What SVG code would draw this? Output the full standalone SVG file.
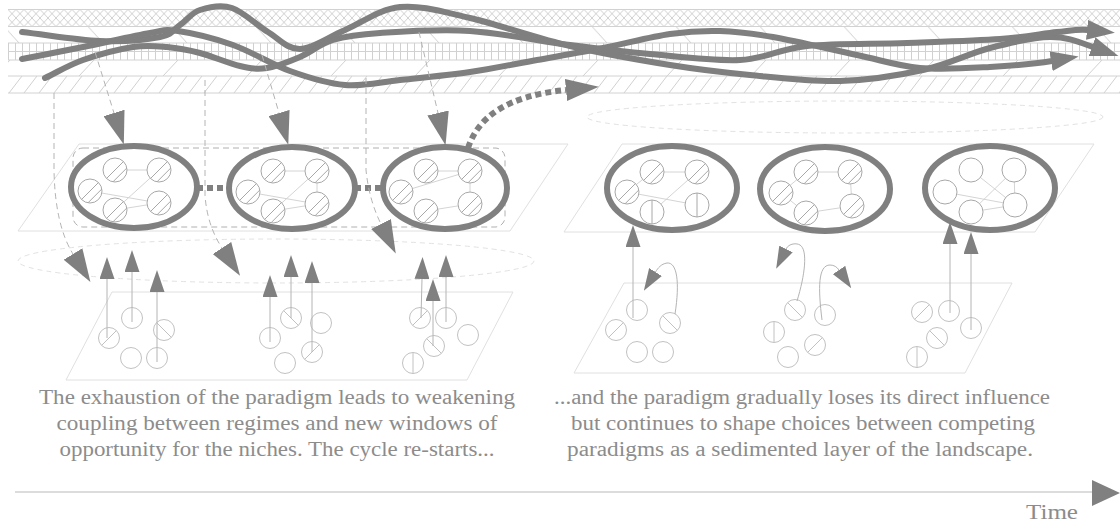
<svg xmlns="http://www.w3.org/2000/svg" xmlns:xlink="http://www.w3.org/1999/xlink" width="1120" height="525" viewBox="0 0 1120 525">
<style>
.bd{stroke:#d2d2d2;stroke-width:1;fill:none}
.pl{stroke:#c4c4c4;stroke-width:0.8;fill:none}
.cv{stroke:#7f7f7f;stroke-width:6;fill:none;stroke-linecap:round;stroke-linejoin:round}
.reg{stroke:#808080;stroke-width:6;fill:none}
.sc{stroke:#a8a8a8;stroke-width:1;fill:#fff}
.sh{stroke:#a8a8a8;stroke-width:1;fill:none}
.web{stroke:#cfcfcf;stroke-width:0.9;fill:none}
.nc{stroke:#c2c2c2;stroke-width:1;fill:#fff}
.nh{stroke:#c2c2c2;stroke-width:1;fill:none}
.par{stroke:#e0e0e0;stroke-width:1;fill:none}
.dsh{stroke:#e2e2e2;stroke-width:1;fill:none;stroke-dasharray:5 4}
.box{stroke:#b0b0b0;stroke-width:1;fill:none;stroke-dasharray:6 4}
.dl{stroke:#b4b4b4;stroke-width:1;fill:none;stroke-dasharray:6 4}
.na{stroke:#b4b4b4;stroke-width:1;fill:none}
.dot{stroke:#808080;stroke-width:6;fill:none;stroke-dasharray:6 4}
.txt{font-family:"Liberation Serif","DejaVu Serif",serif;font-size:20px;fill:#8c8c8c}
.head{fill:#808080}
</style>
<defs>
<pattern id="pX" patternUnits="userSpaceOnUse" x="8" y="9.5" width="8" height="8.5"><path d="M0,0L8,8.5M8,0L0,8.5" class="pl"/></pattern>
<pattern id="pV" patternUnits="userSpaceOnUse" x="8" y="43" width="7" height="17"><path d="M0.5,0V17" class="pl"/></pattern>
<pattern id="pD" patternUnits="userSpaceOnUse" x="8" y="76" width="15" height="17"><path d="M1,17L14,0" class="pl"/></pattern>
<pattern id="pS1" patternUnits="userSpaceOnUse" x="4" y="26.5" width="84" height="16.5"><path d="M0,0L15,16.5" class="pl"/></pattern>
<pattern id="pS2" patternUnits="userSpaceOnUse" x="-5" y="60" width="84" height="16"><path d="M15,0L0,16" class="pl"/></pattern>
<marker id="bandHead" markerUnits="userSpaceOnUse" viewBox="0 0 28 20" markerWidth="28" markerHeight="20" refX="1" refY="10" orient="auto"><path d="M0,0L28,10L0,20z" class="head"/></marker>
<marker id="bigHead" markerUnits="userSpaceOnUse" viewBox="0 0 33 22" markerWidth="33" markerHeight="22" refX="0" refY="11" orient="auto"><path d="M0,0L33,11L0,22z" class="head"/></marker>
<marker id="smallHead" markerUnits="userSpaceOnUse" viewBox="0 0 22 15" markerWidth="22" markerHeight="15" refX="0" refY="7.5" orient="auto"><path d="M0,0L22,7.5L0,15z" class="head"/></marker>
<g id="hc"><circle r="12" class="sc"/><path d="M-8.5,8.5L8.5,-8.5M-2,11.8L11.8,-2" class="sh"/></g>
<g id="vc"><circle r="12" class="sc"/><path d="M0,-12V12" class="sh"/></g>
<circle id="ec" r="12" class="sc"/>
<circle id="n0" r="10.5" class="nc"/>
<g id="nf"><circle r="10.5" class="nc"/><path d="M-7.4,7.4L7.4,-7.4" class="nh"/></g>
<g id="nb"><circle r="10.5" class="nc"/><path d="M-7.4,-7.4L7.4,7.4" class="nh"/></g>
<g id="nv"><circle r="10.5" class="nc"/><path d="M0,-10.5V10.5" class="nh"/></g>
</defs>

<g id="landscape">
<rect x="8" y="9.5" width="1112" height="17" fill="url(#pX)"/>
<rect x="8" y="26.5" width="1112" height="16.5" fill="url(#pS1)"/>
<rect x="8" y="43" width="1112" height="17" fill="url(#pV)"/>
<rect x="8" y="60" width="1112" height="16" fill="url(#pS2)"/>
<rect x="8" y="76" width="1112" height="17" fill="url(#pD)"/>
<path d="M8,9.5H1120M8,26.5H1120M8,43H1120M8,51.5H1120M8,60H1120M8,76H1120M8,93H1120" class="bd"/>
<path class="cv" marker-end="url(#bandHead)" d="M22,32 C48,35 77,40.2 100,41 S146.7,39.7 160,37 S173.3,29.5 180,25 S191.3,12.8 200,10 S220.7,4.3 232,8 S256.7,25.2 268,32 S287.2,49.3 300,49 S328.3,37 345,30 S379.2,9 400,7 S441.7,11.5 470,18 S536.7,38.2 570,46 S640,60.2 670,65 S721.7,72.3 750,75 S811.2,81.8 840,81 S898,75.5 923,70 S968.8,53.5 990,48 S1032.8,37.2 1050,37 S1079,42 1093,47"/>
<path class="cv" marker-end="url(#bandHead)" d="M22,59 C42.3,55 61.7,51.3 83,47 S134.2,35.7 150,33 S164.2,29 178,31 S214.3,38.3 233,45 S271.3,64.3 290,71 S326.7,83.5 345,85 S379.2,82.2 400,80 S447.2,75.3 470,72 S514.8,64 537,60 S580.8,52.3 603,48 S650.5,36.8 670,34 S702.8,30.5 720,31 S750.2,33 773,37 S832.5,49.8 857,55 S897.8,66 920,68 S968,68.2 990,67 S1040,63 1052,61"/>
<path class="cv" marker-end="url(#bandHead)" d="M45,78 C57.7,72 68.3,65.2 83,60 S119,49.2 133,47 S155.8,46 167,47 S187.8,49.8 200,53 S228.8,63.5 240,66 S257,69.5 267,68 S289,61.7 300,57 S319.7,44 333,40 S357.2,34.5 380,33 S438.3,29 470,31 S540,41.2 570,45 S621.7,51.5 650,54 S713.8,61.3 740,60 S779.2,48.8 807,46 S874.8,44.2 907,43 S975,40.8 1000,39 S1042.3,33.5 1057,32 S1078,29 1088,30"/>
</g>

<g id="planes">
<path d="M79,144H568L510,231H18Z" class="par"/>
<path d="M622,144H1094L1035,232H564Z" class="par"/>
<path d="M112,292H513L467,380H66Z" class="par"/>
<path d="M624,283H1012L965,373H574Z" class="par"/>
<ellipse cx="845" cy="117" rx="258" ry="16" class="dsh"/>
<ellipse cx="276" cy="261" rx="258" ry="22" class="dsh"/>
<rect x="73" y="148" width="432" height="79" rx="10" class="box"/>
</g>

<g id="regime-1" transform="translate(134,187)">
<path class="web" d="M-19,-17H25M25,-17L-19,23M-44,4L25,16M-19,23L25,16"/>
<use href="#hc" x="-19" y="-17"/><use href="#hc" x="25" y="-17"/><use href="#hc" x="-44" y="4"/><use href="#hc" x="-19" y="23"/><use href="#hc" x="25" y="16"/>
<ellipse rx="63" ry="41" class="reg"/>
</g>
<g id="regime-2" transform="translate(292,188)">
<path class="web" d="M-19,-17H25M25,-17L25,16M-44,4L25,16M25,-17L-19,23M-19,23L25,16"/>
<use href="#hc" x="-19" y="-17"/><use href="#hc" x="25" y="-17"/><use href="#hc" x="-44" y="4"/><use href="#hc" x="-19" y="23"/><use href="#hc" x="25" y="16"/>
<ellipse rx="63" ry="41" class="reg"/>
</g>
<g id="regime-3" transform="translate(445,188)">
<path class="web" d="M-19,-17H25M25,-17L25,16M-44,4L25,-17M-19,23L25,16"/>
<use href="#hc" x="-19" y="-17"/><use href="#hc" x="25" y="-17"/><use href="#hc" x="-44" y="4"/><use href="#hc" x="-19" y="23"/><use href="#hc" x="25" y="16"/>
<ellipse rx="62" ry="41" class="reg"/>
</g>
<g id="regime-4" transform="translate(672,188)">
<path class="web" d="M-20,-16H25M25,-16L-20,24M-45,4L25,17M-45,4L-20,-16"/>
<use href="#hc" x="-20" y="-16"/><use href="#hc" x="25" y="-16"/><use href="#hc" x="-45" y="4"/><use href="#vc" x="-20" y="24"/><use href="#vc" x="25" y="17"/>
<ellipse rx="65" ry="42" class="reg"/>
</g>
<g id="regime-5" transform="translate(825,189)">
<path class="web" d="M-19,-17H25M-44,4L-19,-17M25,-17L27,17M-44,4L-19,24M-19,24L27,17"/>
<use href="#hc" x="-19" y="-17"/><use href="#hc" x="25" y="-17"/><use href="#hc" x="-44" y="4"/><use href="#hc" x="-19" y="24"/><use href="#hc" x="27" y="17"/>
<ellipse rx="65" ry="42" class="reg"/>
</g>
<g id="regime-6" transform="translate(990,188)">
<path class="web" d="M-19,-18L25,17M24,-18L-19,24M-45,4L25,17M24,-18L25,17M-19,24L25,17"/>
<use href="#ec" x="-19" y="-18"/><use href="#ec" x="24" y="-18"/><use href="#ec" x="-45" y="4"/><use href="#ec" x="-19" y="24"/><use href="#ec" x="25" y="17"/>
<ellipse rx="65" ry="42" class="reg"/>
</g>

<g id="niche-1">
<use href="#nf" x="109" y="338"/><use href="#n0" x="132" y="318"/><use href="#nb" x="164" y="330"/><use href="#n0" x="131" y="358"/><use href="#n0" x="157" y="358"/>
</g>
<g id="niche-2">
<use href="#n0" x="270" y="338"/><use href="#nb" x="291" y="318"/><use href="#n0" x="321" y="323"/><use href="#nf" x="312" y="352"/><use href="#n0" x="285" y="363"/>
</g>
<g id="niche-3">
<use href="#nf" x="420" y="318"/><use href="#n0" x="446" y="318"/><use href="#n0" x="468" y="335"/><use href="#nb" x="434" y="346"/><use href="#nv" x="413" y="363"/>
</g>
<g id="niche-4">
<use href="#n0" x="637" y="310"/><use href="#nf" x="616" y="330"/><use href="#nb" x="670" y="323"/><use href="#n0" x="637" y="352"/><use href="#n0" x="663" y="352"/>
</g>
<g id="niche-5">
<use href="#nb" x="795" y="310"/><use href="#n0" x="825" y="315"/><use href="#nv" x="774" y="332"/><use href="#nf" x="815" y="345"/><use href="#n0" x="788" y="357"/>
</g>
<g id="niche-6">
<use href="#nf" x="922" y="312"/><use href="#n0" x="949" y="311"/><use href="#n0" x="971" y="328"/><use href="#nb" x="937" y="338"/><use href="#nv" x="917" y="357"/>
</g>

<g id="connectors">
<path class="dot" d="M197,188H229M355,188H383"/>
<path class="dot" marker-end="url(#bigHead)" d="M468,148 C478,118 505,96 566,90"/>
<path class="dl" marker-end="url(#bigHead)" d="M95,52L114,113"/>
<path class="dl" marker-end="url(#bigHead)" d="M262,55L279,113"/>
<path class="dl" marker-end="url(#bigHead)" d="M419,32L438,113"/>
<path class="dl" marker-end="url(#bigHead)" d="M54,93L54,170Q55,225 73,254"/>
<path class="dl" marker-end="url(#bigHead)" d="M205,80L205,195Q207,225 222,248"/>
<path class="dl" marker-end="url(#bigHead)" d="M366,78L366,170Q369,200 381,224"/>
<path class="na" marker-end="url(#smallHead)" d="M107,338V279"/>
<path class="na" marker-end="url(#smallHead)" d="M132,322V272"/>
<path class="na" marker-end="url(#smallHead)" d="M157,362V292"/>
<path class="na" marker-end="url(#smallHead)" d="M270,342V297"/>
<path class="na" marker-end="url(#smallHead)" d="M291,318V277"/>
<path class="na" marker-end="url(#smallHead)" d="M312,352V283"/>
<path class="na" marker-end="url(#smallHead)" d="M421,318L422,279"/>
<path class="na" marker-end="url(#smallHead)" d="M446,322V277"/>
<path class="na" marker-end="url(#smallHead)" d="M433,346V301"/>
<path class="na" marker-end="url(#smallHead)" d="M633,318V247"/>
<path class="na" marker-end="url(#smallHead)" d="M950,313V244"/>
<path class="na" marker-end="url(#smallHead)" d="M971,330V254"/>
<path class="na" marker-end="url(#smallHead)" d="M675,314C680,282 677,262 667,263C661,264 658,268 655.5,272"/>
<path class="na" marker-end="url(#smallHead)" d="M797,301C805,275 808,250 800,245C797,243 789,243 786,249"/>
<path class="na" marker-end="url(#smallHead)" d="M822,320C818,288 818,265 830,265C834,265 837,267 839,270"/>
</g>

<g id="captions">
<text class="txt" x="277" y="404" text-anchor="middle" textLength="476" lengthAdjust="spacingAndGlyphs">The exhaustion of the paradigm leads to weakening</text>
<text class="txt" x="277" y="430" text-anchor="middle" textLength="441" lengthAdjust="spacingAndGlyphs">coupling between regimes and new windows of</text>
<text class="txt" x="277" y="456" text-anchor="middle" textLength="435" lengthAdjust="spacingAndGlyphs">opportunity for the niches. The cycle re-starts...</text>
<text class="txt" x="802" y="404" text-anchor="middle" textLength="496" lengthAdjust="spacingAndGlyphs">...and the paradigm gradually loses its direct influence</text>
<text class="txt" x="803" y="430" text-anchor="middle" textLength="464" lengthAdjust="spacingAndGlyphs">but continues to shape choices between competing</text>
<text class="txt" x="800" y="456" text-anchor="middle" textLength="466" lengthAdjust="spacingAndGlyphs">paradigms as a sedimented layer of the landscape.</text>
</g>

<g id="time-axis">
<path d="M15,492H1094" stroke="#d0d0d0" stroke-width="1.5" fill="none"/>
<path d="M1092,480L1120,493L1092,506Z" class="head"/>
<text class="txt" x="1026" y="519" textLength="52" lengthAdjust="spacingAndGlyphs">Time</text>
</g>
</svg>
